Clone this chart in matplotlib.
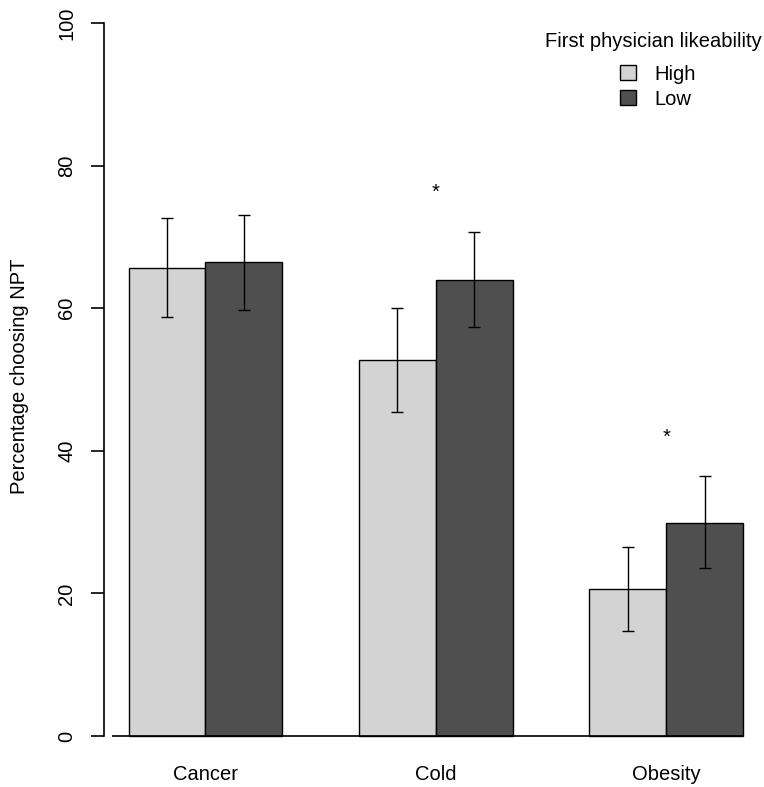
import matplotlib
matplotlib.use("Agg")
import matplotlib.pyplot as plt
import numpy as np

plt.rcParams['font.family'] = ['Liberation Sans', 'DejaVu Sans']

categories = ['Cancer', 'Cold', 'Obesity']
high = [65.7, 52.7, 20.6]
low = [66.5, 64.0, 29.9]
# error bar ends
high_lower = [58.8, 45.5, 14.8]
high_upper = [72.6, 60.0, 26.5]
low_lower = [59.8, 57.3, 23.5]
low_upper = [73.1, 70.7, 36.4]
# significance stars: which group, and height
star_groups = [1, 2]
star_y = [76.2, 41.9]

light = '#d3d3d3'
dark = '#4f4f4f'
fs = 14.5

fig = plt.figure(figsize=(7.64, 7.87), dpi=100)
ax = fig.add_axes([104 / 764, (787 - 750.3) / 787, 660 / 764, (750.3 - 1.6) / 787])

# R style barplot layout: width 1, space 1 between groups
group_left = 1 + 3 * np.arange(len(categories))
x_high = group_left + 0.5
x_low = group_left + 1.5

high = np.array(high)
low = np.array(low)
ax.bar(x_high, high, width=1, color=light, edgecolor='black', linewidth=1.0, label='High', zorder=2)
ax.bar(x_low, low, width=1, color=dark, edgecolor='black', linewidth=1.0, label='Low', zorder=2)

err_high = [high - np.array(high_lower), np.array(high_upper) - high]
err_low = [low - np.array(low_lower), np.array(low_upper) - low]
ax.errorbar(x_high, high, yerr=err_high, fmt='none', ecolor='black', elinewidth=1.0,
            capsize=4.3, capthick=1.0, zorder=3)
ax.errorbar(x_low, low, yerr=err_low, fmt='none', ecolor='black', elinewidth=1.0,
            capsize=4.3, capthick=1.0, zorder=3)

for g, yv in zip(star_groups, star_y):
    ax.text(group_left[g] + 1, yv, '*', ha='center', va='center', fontsize=fs, zorder=4)

# baseline under the bars
ax.hlines(0, 0.79, group_left[-1] + 2, color='black', linewidth=1.2, zorder=4)

ax.set_xlim(0.68, 0.68 + 660 / 76.8)
ax.set_ylim(-2, 103)

for s in ['top', 'right', 'bottom']:
    ax.spines[s].set_visible(False)
ax.spines['left'].set_bounds(0, 100)
ax.spines['left'].set_linewidth(1.2)

ax.set_yticks(np.arange(0, 101, 20))
ax.tick_params(axis='y', length=9.4, width=1.2, pad=10.5, labelsize=fs, labelrotation=90)
for lab in ax.get_yticklabels():
    lab.set_verticalalignment('center')
ax.set_xticks(group_left + 1)
ax.set_xticklabels(categories)
ax.tick_params(axis='x', length=0, pad=10.5, labelsize=fs)

ax.set_ylabel('Percentage choosing NPT', fontsize=fs)
ax.yaxis.set_label_coords((29 - 104) / 660, 0.5)

fig.text(653 / 764, 1 - 41.7 / 787, 'First physician likeability', ha='center', va='center',
         fontsize=fs)
ax.legend(loc='upper left', bbox_to_anchor=(620 / 764, 1 - 64.5 / 787), bbox_transform=fig.transFigure,
          frameon=False, fontsize=fs, borderpad=0, borderaxespad=0,
          handlelength=0.8, handleheight=0.8, handletextpad=0.9, labelspacing=0.3)

fig.savefig('out.png', dpi=100)
